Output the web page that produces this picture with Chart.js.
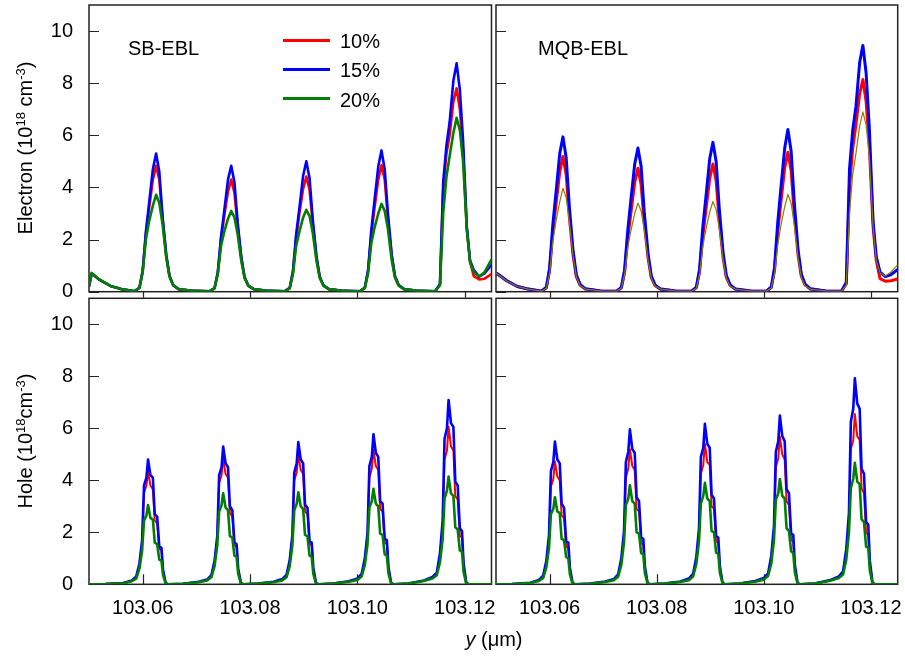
<!DOCTYPE html>
<html>
<head>
<meta charset="utf-8">
<script src="https://cdn.jsdelivr.net/npm/chart.js@4.4.0/dist/chart.umd.min.js"></script>
<style>
  body { margin: 0; background: #fff; }
  #wrap { position: relative; width: 905px; height: 657px; overflow: hidden;
          font-family: "Liberation Sans", Arial, sans-serif; color: #000; }
  #wrap canvas { position: absolute; left: 0; top: 0; }
  .txt { position: absolute; font-size: 20px; line-height: 20px; white-space: nowrap; }
  .ytitle { position: absolute; font-size: 20px; line-height: 20px; white-space: nowrap;
            transform: translate(-50%, -50%) rotate(-90deg); }
  .ytitle sup { font-size: 13px; line-height: 0; vertical-align: 7px; }
  .swatch { position: absolute; height: 3px; width: 47px; }
</style>
</head>
<body>
<div id="wrap">
  <canvas id="tl" width="905" height="657"></canvas>
  <canvas id="tr" width="905" height="657"></canvas>
  <canvas id="bl" width="905" height="657"></canvas>
  <canvas id="br" width="905" height="657"></canvas>

  <div class="ytitle" style="left:25px; top:148px;">Electron (10<sup>18</sup> cm<sup>-3</sup>)</div>
  <div class="ytitle" style="left:25px; top:441px;">Hole (10<sup>18</sup>cm<sup>-3</sup>)</div>
  <div class="txt" style="left:128px; top:38px;">SB-EBL</div>
  <div class="txt" style="left:538px; top:38px;">MQB-EBL</div>
  <div class="txt" style="left:494px; top:629px; transform:translateX(-50%);"><i>y</i> (&mu;m)</div>
  <div id="legend"></div>
</div>

<script>
// axis ticks
const yTicks = [0, 2, 4, 6, 8, 10];
const xTicks = [103.06, 103.08, 103.10, 103.12];
const seriesNames = ["10%", "15%", "20%"];

// y positions (um) sampled for the electron profiles
const electronX = [
  103.0500, 103.0505, 103.0520, 103.0540, 103.0560,
  103.0585, 103.0594, 103.0600, 103.0606, 103.0612, 103.0619, 103.0625, 103.0631, 103.0637, 103.0644, 103.0650, 103.0657, 103.0667, 103.0695,
  103.0725, 103.0734, 103.0740, 103.0746, 103.0752, 103.0759, 103.0765, 103.0771, 103.0777, 103.0784, 103.0790, 103.0797, 103.0807, 103.0835,
  103.0865, 103.0874, 103.0880, 103.0886, 103.0892, 103.0899, 103.0905, 103.0911, 103.0917, 103.0924, 103.0930, 103.0937, 103.0947, 103.0975,
  103.1005, 103.1014, 103.1020, 103.1026, 103.1032, 103.1039, 103.1045, 103.1051, 103.1057, 103.1064, 103.1070, 103.1077, 103.1087, 103.1115,
  103.1145, 103.1154, 103.1160, 103.1166, 103.1172, 103.1179, 103.1185, 103.1191, 103.1197, 103.1204, 103.1210, 103.1217, 103.1227, 103.1237, 103.1250
];

// y positions (um) sampled for the hole profiles
const holeX = [
  103.0500, 103.0530,
  103.0564, 103.0580, 103.0588, 103.0594, 103.0599, 103.06025, 103.0607, 103.0610, 103.06145, 103.0619, 103.06225, 103.0627, 103.0631, 103.0635, 103.0638, 103.0643, 103.0648, 103.0675,
  103.0704, 103.0720, 103.0728, 103.0734, 103.0739, 103.07425, 103.0747, 103.0750, 103.07545, 103.0759, 103.07625, 103.0767, 103.0771, 103.0775, 103.0778, 103.0783, 103.0788, 103.0815,
  103.0844, 103.0860, 103.0868, 103.0874, 103.0879, 103.08825, 103.0887, 103.0890, 103.08945, 103.0899, 103.09025, 103.0907, 103.0911, 103.0915, 103.0918, 103.0923, 103.0928, 103.0955,
  103.0984, 103.1000, 103.1008, 103.1014, 103.1019, 103.10225, 103.1027, 103.1030, 103.10345, 103.1039, 103.10425, 103.1047, 103.1051, 103.1055, 103.1058, 103.1063, 103.1068, 103.1095,
  103.1124, 103.1140, 103.1148, 103.1154, 103.1159, 103.11625, 103.1167, 103.1170, 103.11745, 103.1179, 103.11825, 103.1187, 103.1191, 103.1195, 103.1198, 103.1203, 103.1208, 103.1250
];

// electron concentration, SB-EBL (1e18 cm^-3)
const sbElectron10 = [
  0.2, 0.7, 0.45, 0.22, 0.1,
  0.02, 0.15, 0.78, 2.2, 3.2, 4.3, 4.83, 4.3, 2.8, 1.38, 0.6, 0.25, 0.1, 0.03,
  0.02, 0.14, 0.72, 2.0, 2.9, 3.85, 4.3, 3.8, 2.5, 1.25, 0.54, 0.22, 0.1, 0.03,
  0.02, 0.14, 0.74, 2.05, 3.0, 3.95, 4.42, 3.9, 2.6, 1.28, 0.55, 0.23, 0.1, 0.03,
  0.02, 0.15, 0.78, 2.2, 3.2, 4.3, 4.85, 4.3, 2.8, 1.38, 0.6, 0.25, 0.1, 0.03,
  0.02, 0.28, 3.9, 5.3, 6.0, 7.3, 7.8, 7.0, 5.4, 2.4, 1.15, 0.6, 0.47, 0.5, 0.68
];
const sbElectron15 = [
  0.2, 0.7, 0.45, 0.22, 0.1,
  0.02, 0.15, 0.8, 2.3, 3.4, 4.7, 5.3, 4.6, 2.9, 1.4, 0.6, 0.25, 0.1, 0.03,
  0.02, 0.14, 0.75, 2.1, 3.1, 4.3, 4.83, 4.2, 2.65, 1.3, 0.55, 0.23, 0.1, 0.03,
  0.02, 0.15, 0.78, 2.2, 3.2, 4.45, 5.0, 4.35, 2.75, 1.33, 0.57, 0.24, 0.1, 0.03,
  0.02, 0.16, 0.82, 2.35, 3.5, 4.8, 5.42, 4.7, 3.0, 1.43, 0.6, 0.26, 0.1, 0.03,
  0.02, 0.3, 4.2, 5.6, 6.5, 8.1, 8.76, 7.75, 5.8, 2.5, 1.2, 0.83, 0.58, 0.7, 1.03
];
const sbElectron20 = [
  0.22, 0.72, 0.46, 0.22, 0.1,
  0.02, 0.15, 0.75, 2.0, 2.7, 3.3, 3.72, 3.4, 2.6, 1.3, 0.58, 0.24, 0.1, 0.03,
  0.02, 0.13, 0.68, 1.75, 2.3, 2.8, 3.1, 2.85, 2.2, 1.15, 0.52, 0.22, 0.1, 0.03,
  0.02, 0.13, 0.68, 1.75, 2.3, 2.85, 3.14, 2.9, 2.25, 1.17, 0.53, 0.22, 0.1, 0.03,
  0.02, 0.14, 0.7, 1.85, 2.45, 3.0, 3.37, 3.1, 2.4, 1.22, 0.55, 0.23, 0.1, 0.03,
  0.02, 0.25, 3.0, 4.4, 5.2, 6.1, 6.67, 6.2, 5.0, 2.4, 1.15, 0.75, 0.58, 0.75, 1.24
];

// electron concentration, MQB-EBL
const mqbElectron10 = [
  0.72, 0.65, 0.42, 0.2, 0.1,
  0.02, 0.15, 0.8, 2.25, 3.35, 4.6, 5.19, 4.5, 2.85, 1.38, 0.58, 0.25, 0.1, 0.03,
  0.02, 0.14, 0.72, 2.05, 3.05, 4.2, 4.74, 4.1, 2.6, 1.27, 0.54, 0.23, 0.1, 0.03,
  0.02, 0.15, 0.75, 2.1, 3.15, 4.35, 4.9, 4.25, 2.7, 1.3, 0.55, 0.24, 0.1, 0.03,
  0.02, 0.16, 0.8, 2.3, 3.45, 4.75, 5.35, 4.65, 2.95, 1.4, 0.6, 0.26, 0.1, 0.03,
  0.02, 0.3, 4.0, 5.5, 6.4, 7.6, 8.14, 7.3, 5.6, 2.5, 1.2, 0.5, 0.4, 0.42, 0.49
];
const mqbElectron15 = [
  0.72, 0.65, 0.42, 0.2, 0.1,
  0.02, 0.17, 0.9, 2.55, 3.8, 5.3, 5.94, 5.15, 3.25, 1.55, 0.65, 0.28, 0.11, 0.03,
  0.02, 0.16, 0.83, 2.35, 3.55, 4.9, 5.51, 4.8, 3.0, 1.45, 0.6, 0.26, 0.1, 0.03,
  0.02, 0.17, 0.86, 2.45, 3.65, 5.1, 5.73, 5.0, 3.15, 1.5, 0.63, 0.27, 0.1, 0.03,
  0.02, 0.18, 0.93, 2.65, 4.0, 5.5, 6.22, 5.4, 3.4, 1.6, 0.68, 0.29, 0.11, 0.03,
  0.02, 0.35, 4.7, 6.2, 7.1, 8.8, 9.45, 8.4, 6.3, 2.7, 1.35, 0.75, 0.58, 0.65, 0.85
];
const mqbElectron20 = [
  0.72, 0.64, 0.41, 0.2, 0.1,
  0.02, 0.14, 0.7, 1.9, 2.7, 3.45, 3.97, 3.6, 2.7, 1.35, 0.58, 0.24, 0.1, 0.03,
  0.02, 0.13, 0.65, 1.7, 2.35, 3.0, 3.4, 3.1, 2.35, 1.2, 0.52, 0.22, 0.1, 0.03,
  0.02, 0.13, 0.66, 1.72, 2.4, 3.05, 3.46, 3.15, 2.4, 1.22, 0.53, 0.22, 0.1, 0.03,
  0.02, 0.14, 0.68, 1.8, 2.55, 3.25, 3.74, 3.4, 2.55, 1.3, 0.55, 0.23, 0.1, 0.03,
  0.02, 0.25, 3.0, 4.5, 5.3, 6.35, 6.9, 6.4, 5.2, 2.5, 1.2, 0.72, 0.6, 0.75, 1.03
];

// hole concentration, SB-EBL
const sbHole10 = [
  0, 0.01,
  0.05, 0.14, 0.28, 0.75, 1.6, 3.5, 3.8, 4.33, 3.8, 3.65, 2.45, 2.35, 1.35, 1.3, 0.5, 0.04, 0, 0.02,
  0.09, 0.17, 0.33, 0.85, 1.75, 3.9, 4.2, 4.85, 4.25, 4.1, 2.75, 2.6, 1.5, 1.45, 0.56, 0.05, 0, 0.03,
  0.09, 0.18, 0.34, 0.87, 1.8, 4.0, 4.3, 5.0, 4.4, 4.25, 2.8, 2.7, 1.55, 1.5, 0.58, 0.05, 0, 0.03,
  0.11, 0.2, 0.37, 0.92, 1.85, 4.1, 4.45, 5.17, 4.55, 4.4, 2.9, 2.8, 1.6, 1.55, 0.6, 0.05, 0, 0.03,
  0.14, 0.26, 0.42, 1.1, 2.2, 4.8, 5.15, 6.06, 5.3, 5.15, 3.4, 3.25, 1.85, 1.8, 0.7, 0.05, 0, 0
];
const sbHole15 = [
  0, 0.01,
  0.05, 0.15, 0.3, 0.8, 1.7, 3.8, 4.1, 4.8, 4.2, 4.1, 2.7, 2.6, 1.45, 1.4, 0.55, 0.04, 0, 0.02,
  0.1, 0.18, 0.35, 0.9, 1.85, 4.2, 4.5, 5.3, 4.65, 4.5, 3.0, 2.85, 1.6, 1.55, 0.6, 0.05, 0, 0.03,
  0.1, 0.2, 0.36, 0.93, 1.9, 4.3, 4.65, 5.47, 4.8, 4.65, 3.05, 2.95, 1.65, 1.6, 0.63, 0.05, 0, 0.03,
  0.12, 0.22, 0.4, 1.0, 2.0, 4.55, 4.9, 5.77, 5.05, 4.9, 3.2, 3.1, 1.75, 1.7, 0.66, 0.05, 0, 0.03,
  0.15, 0.28, 0.45, 1.2, 2.45, 5.6, 6.0, 7.09, 6.2, 6.05, 3.95, 3.8, 2.15, 2.05, 0.8, 0.06, 0, 0
];
const sbHole20 = [
  0, 0.01,
  0.04, 0.12, 0.22, 0.6, 1.3, 2.45, 2.65, 3.05, 2.55, 2.5, 1.6, 1.55, 0.95, 0.9, 0.35, 0.02, 0, 0.02,
  0.08, 0.15, 0.27, 0.7, 1.5, 2.8, 3.05, 3.5, 2.95, 2.85, 1.85, 1.8, 1.1, 1.05, 0.4, 0.03, 0, 0.03,
  0.08, 0.15, 0.27, 0.7, 1.5, 2.85, 3.1, 3.54, 3.0, 2.9, 1.9, 1.85, 1.1, 1.05, 0.4, 0.03, 0, 0.03,
  0.1, 0.17, 0.3, 0.75, 1.55, 2.95, 3.2, 3.67, 3.1, 3.0, 1.95, 1.9, 1.15, 1.1, 0.42, 0.03, 0, 0.03,
  0.13, 0.22, 0.35, 0.85, 1.75, 3.3, 3.6, 4.14, 3.5, 3.4, 2.2, 2.1, 1.3, 1.25, 0.47, 0.03, 0, 0
];

// hole concentration, MQB-EBL
const mqbHole10 = [
  0, 0.01,
  0.05, 0.15, 0.29, 0.78, 1.65, 3.75, 4.05, 4.72, 4.15, 4.0, 2.65, 2.55, 1.45, 1.4, 0.55, 0.04, 0, 0.02,
  0.1, 0.18, 0.33, 0.87, 1.8, 4.1, 4.45, 5.19, 4.55, 4.4, 2.9, 2.8, 1.6, 1.5, 0.6, 0.05, 0, 0.03,
  0.1, 0.19, 0.35, 0.9, 1.85, 4.25, 4.6, 5.4, 4.7, 4.6, 3.0, 2.9, 1.65, 1.6, 0.62, 0.05, 0, 0.03,
  0.12, 0.21, 0.38, 0.95, 1.95, 4.5, 4.85, 5.68, 5.0, 4.8, 3.2, 3.05, 1.7, 1.65, 0.65, 0.05, 0, 0.03,
  0.15, 0.27, 0.45, 1.1, 2.3, 5.2, 5.55, 6.55, 5.7, 5.55, 3.7, 3.5, 2.0, 1.9, 0.75, 0.05, 0, 0
];
const mqbHole15 = [
  0, 0.01,
  0.06, 0.17, 0.33, 0.9, 1.9, 4.35, 4.7, 5.49, 4.8, 4.65, 3.1, 2.95, 1.65, 1.6, 0.63, 0.05, 0, 0.03,
  0.11, 0.2, 0.38, 1.0, 2.05, 4.7, 5.1, 5.96, 5.2, 5.05, 3.35, 3.2, 1.8, 1.75, 0.68, 0.05, 0, 0.03,
  0.11, 0.22, 0.4, 1.05, 2.15, 4.9, 5.25, 6.17, 5.4, 5.25, 3.45, 3.3, 1.85, 1.8, 0.7, 0.05, 0, 0.03,
  0.13, 0.24, 0.42, 1.1, 2.25, 5.1, 5.5, 6.49, 5.7, 5.5, 3.65, 3.5, 1.95, 1.9, 0.75, 0.05, 0, 0.03,
  0.16, 0.3, 0.5, 1.35, 2.75, 6.25, 6.75, 7.92, 6.95, 6.75, 4.45, 4.25, 2.4, 2.3, 0.9, 0.06, 0, 0
];
const mqbHole20 = [
  0, 0.01,
  0.05, 0.13, 0.24, 0.65, 1.4, 2.7, 2.9, 3.35, 2.8, 2.75, 1.75, 1.7, 1.05, 1.0, 0.38, 0.03, 0, 0.02,
  0.09, 0.16, 0.29, 0.75, 1.6, 3.05, 3.3, 3.81, 3.2, 3.1, 2.0, 1.95, 1.2, 1.15, 0.43, 0.03, 0, 0.03,
  0.09, 0.16, 0.3, 0.78, 1.65, 3.1, 3.4, 3.9, 3.3, 3.2, 2.05, 2.0, 1.22, 1.17, 0.44, 0.03, 0, 0.03,
  0.1, 0.18, 0.32, 0.8, 1.7, 3.25, 3.5, 4.05, 3.4, 3.3, 2.15, 2.05, 1.27, 1.2, 0.46, 0.03, 0, 0.03,
  0.14, 0.24, 0.38, 0.95, 2.0, 3.7, 4.05, 4.67, 3.95, 3.85, 2.5, 2.4, 1.45, 1.4, 0.53, 0.04, 0, 0
];

const RED = "#ff0000", BLUE = "#0000ff", GREEN = "#008000", OLIVE = "#8b8000";
const FONT = '"Liberation Sans", Arial, sans-serif';
Chart.defaults.font.family = FONT;
Chart.defaults.font.size = 20;
Chart.defaults.color = "#000";

// box around each plot, y ticks pointing in, x ticks in or out
const frame = {
  id: "frame",
  beforeDatasetsDraw(chart, args, opts) {
    const { ctx, chartArea: a, scales } = chart;
    ctx.save();
    ctx.strokeStyle = "#222";
    ctx.lineWidth = 1.5;
    ctx.strokeRect(a.left, a.top, a.right - a.left, a.bottom - a.top);
    ctx.lineWidth = 1.2;
    ctx.beginPath();
    yTicks.forEach(v => {
      const py = Math.round(scales.y.getPixelForValue(v)) + 0.5;
      ctx.moveTo(a.left, py);
      ctx.lineTo(a.left + 10, py);
    });
    xTicks.forEach(v => {
      const px = Math.round(scales.x.getPixelForValue(v)) + 0.5;
      ctx.moveTo(px, a.bottom);
      ctx.lineTo(px, a.bottom + opts.xTick);
    });
    ctx.stroke();
    ctx.restore();
  }
};

function makePanel(id, p) {
  const datasets = p.series.map((ys, i) => ({
    label: seriesNames[i],
    data: p.x.map((x, j) => ({ x: x, y: ys[j] })),
    borderColor: p.colors[i],
    borderWidth: p.widths[i],
    borderJoinStyle: "round",
    pointRadius: 0,
    tension: 0,
    order: 3 - i
  }));

  return new Chart(document.getElementById(id), {
    type: "line",
    data: { datasets },
    options: {
      responsive: false,
      animation: false,
      events: [],
      layout: { padding: p.pad },
      plugins: {
        legend: { display: false },
        tooltip: { enabled: false },
        frame: { xTick: p.xTick }
      },
      scales: {
        x: {
          type: "linear",
          min: 103.05,
          max: 103.125,
          display: p.showX,
          grid: { display: false, drawTicks: false },
          border: { display: false },
          afterBuildTicks: s => { s.ticks = xTicks.map(v => ({ value: v })); },
          afterFit: s => {
            if (!p.showX) return;
            s.height = 40; s.paddingLeft = 0; s.paddingRight = 0;
          },
          ticks: {
            padding: 12,
            maxRotation: 0,
            autoSkip: false,
            callback: v => v.toFixed(2)
          }
        },
        y: {
          min: 0,
          max: 11,
          display: p.showY,
          grid: { display: false, drawTicks: false },
          border: { display: false },
          afterBuildTicks: s => { s.ticks = yTicks.map(v => ({ value: v })); },
          afterFit: s => {
            if (!p.showY) return;
            s.width = 60; s.paddingTop = 0; s.paddingBottom = 0;
          },
          ticks: { padding: 16, autoSkip: false }
        }
      }
    },
    plugins: [frame]
  });
}

makePanel("tl", {
  x: electronX,
  series: [sbElectron10, sbElectron15, sbElectron20],
  colors: [RED, BLUE, GREEN],
  widths: [2.6, 2.6, 2.6],
  showX: false, showY: true, xTick: 6,
  pad: { left: 29, top: 5, right: 413.5, bottom: 365.3 }
});
makePanel("tr", {
  x: electronX,
  series: [mqbElectron10, mqbElectron15, mqbElectron20],
  colors: [RED, BLUE, OLIVE],
  widths: [3, 3, 1.2],
  showX: false, showY: false, xTick: 6,
  pad: { left: 496, top: 5, right: 7.3, bottom: 365.3 }
});
makePanel("bl", {
  x: holeX,
  series: [sbHole10, sbHole15, sbHole20],
  colors: [RED, BLUE, GREEN],
  widths: [2, 2.6, 2.6],
  showX: true, showY: true, xTick: -10,
  pad: { left: 29, top: 298.3, right: 413.5, bottom: 32.7 }
});
makePanel("br", {
  x: holeX,
  series: [mqbHole10, mqbHole15, mqbHole20],
  colors: [RED, BLUE, GREEN],
  widths: [2, 2.6, 2.6],
  showX: true, showY: false, xTick: -10,
  pad: { left: 496, top: 298.3, right: 7.3, bottom: 32.7 }
});

// legend for the SB-EBL electron panel
const legendColors = [RED, BLUE, GREEN];
const legend = document.getElementById("legend");
seriesNames.forEach((name, i) => {
  const top = 40 + i * 29.3;
  const sw = document.createElement("div");
  sw.className = "swatch";
  sw.style.cssText = `left:283px; top:${top - 1.5}px; background:${legendColors[i]};`;
  legend.appendChild(sw);
  const t = document.createElement("div");
  t.className = "txt";
  t.style.cssText = `left:340px; top:${top - 9}px;`;
  t.textContent = name;
  legend.appendChild(t);
});
</script>
</body>
</html>
